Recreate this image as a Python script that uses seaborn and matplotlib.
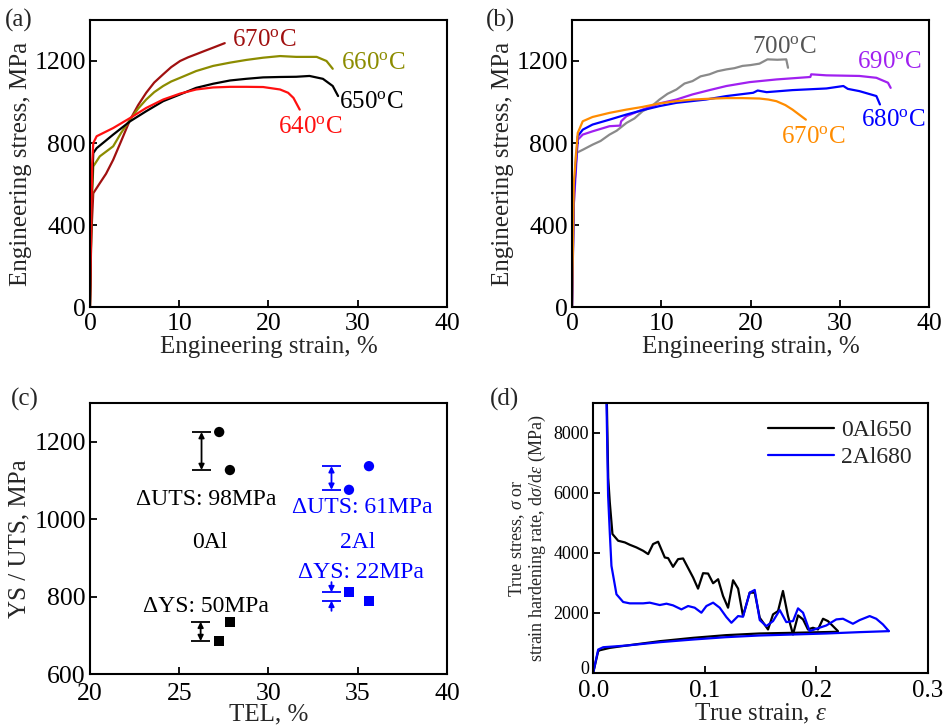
import numpy as np
import pandas as pd
import matplotlib
matplotlib.use("Agg")
import matplotlib.pyplot as plt
from matplotlib.lines import Line2D
from matplotlib.transforms import ScaledTranslation
import seaborn as sns

sns.set_theme(style="ticks")
plt.rcParams['font.family'] = ['Liberation Serif', 'DejaVu Serif']
plt.rcParams['mathtext.fontset'] = 'custom'
plt.rcParams['mathtext.rm'] = 'Liberation Serif'
plt.rcParams['mathtext.it'] = 'Liberation Serif:italic'
plt.rcParams['axes.linewidth'] = 1.5
plt.rcParams['xtick.direction'] = 'in'
plt.rcParams['ytick.direction'] = 'in'
plt.rcParams['xtick.major.width'] = 1.3
plt.rcParams['ytick.major.width'] = 1.3
plt.rcParams['xtick.major.size'] = 5
plt.rcParams['ytick.major.size'] = 5

# ---------------- Panel (a): 0Al engineering curves ----------------
a670_x = [0, 0.15, 0.37, 1.1, 1.8, 2.6, 3.5, 4.5, 5.4, 6.3, 7.2, 8.2, 9.1, 10.1, 11.0, 11.9, 12.9, 13.8, 15.1]
a670_y = [0, 350, 555, 604, 650, 718, 810, 914, 985, 1045, 1095, 1135, 1170, 1200, 1218, 1233, 1250, 1265, 1287]
a660_x = [0, 0.2, 0.37, 1.1, 2.6, 3.5, 4.5, 5.4, 6.3, 7.2, 8.2, 9.1, 10.1, 11.9, 13.8, 15.7, 17.5, 19.4, 21.3, 23.1, 25.4, 26.5, 27.2]
a660_y = [0, 500, 686, 735, 784, 850, 914, 968, 1012, 1048, 1078, 1100, 1118, 1151, 1176, 1192, 1205, 1216, 1224, 1220, 1220, 1200, 1162]
a650_x = [0, 0.2, 0.37, 0.75, 2.6, 4.5, 6.3, 8.2, 10.1, 11.9, 13.8, 15.7, 17.5, 19.4, 21.3, 23.1, 24.6, 26.1, 27.2, 27.8]
a650_y = [0, 550, 751, 775, 841, 906, 955, 1004, 1037, 1069, 1089, 1105, 1113, 1120, 1122, 1123, 1127, 1113, 1078, 1029]
a640_x = [0, 0.25, 0.37, 0.75, 2.6, 4.5, 6.3, 8.2, 10.1, 11.9, 13.8, 15.7, 17.5, 19.4, 21.3, 22.2, 22.8, 23.5]
a640_y = [0, 700, 800, 833, 873, 922, 971, 1012, 1041, 1061, 1071, 1074, 1074, 1073, 1061, 1045, 1020, 963]

# ---------------- Panel (b): 2Al engineering curves ----------------
b700_x = [0, 0.2, 0.45, 1.2, 2.3, 3.2, 4.2, 5.0, 6.1, 7.0, 7.9, 8.8, 9.8, 10.7, 11.7, 12.6, 13.5, 14.4, 15.4, 16.3, 17.3, 18.2, 19.1, 20.0, 21.0, 21.9, 23.0, 24.0, 24.2]
b700_y = [0, 500, 751, 767, 792, 810, 841, 860, 898, 920, 955, 975, 1012, 1040, 1061, 1090, 1102, 1125, 1135, 1150, 1159, 1165, 1176, 1180, 1187, 1208, 1206, 1208, 1167]
b690_x = [0, 0.2, 0.64, 1.2, 2.3, 4.2, 5.4, 5.5, 6.1, 7.9, 9.8, 11.7, 13.5, 15.4, 17.3, 19.9, 22.9, 26.7, 26.8, 28.5, 32.2, 34.1, 35.4, 35.7]
b690_y = [0, 500, 816, 841, 857, 882, 885, 906, 931, 963, 993, 1012, 1037, 1058, 1078, 1097, 1110, 1122, 1135, 1130, 1127, 1118, 1094, 1069]
b680_x = [0, 0.2, 0.64, 1.2, 2.3, 4.2, 6.1, 7.9, 9.8, 11.7, 15.0, 17.3, 20.3, 20.8, 21.8, 24.7, 28.5, 30.4, 30.9, 32.2, 34.1, 34.5]
b680_y = [0, 550, 833, 865, 890, 914, 939, 960, 980, 996, 1012, 1029, 1045, 1056, 1048, 1058, 1066, 1078, 1064, 1053, 1029, 988]
b670_x = [0, 0.2, 0.64, 1.2, 2.3, 4.2, 6.1, 7.9, 9.8, 11.7, 13.5, 15.4, 17.3, 19.1, 21.0, 22.0, 22.9, 23.9, 24.7, 26.2]
b670_y = [0, 600, 849, 906, 927, 947, 963, 976, 993, 1004, 1012, 1016, 1019, 1019, 1017, 1012, 1004, 985, 963, 914]

# ---------------- Panel (c): YS / UTS vs TEL ----------------
al0_tel = [27.24, 27.84]
al0_uts = [1225, 1127]
al0_ys = [686, 736]
al2_tel = [34.51, 35.63]
al2_uts = [1076, 1137]
al2_ys = [812, 790]

# ---------------- Panel (d): true stress & hardening ----------------
d0_strain = [0, 0.0045, 0.006, 0.0149, 0.0299, 0.0597, 0.0896, 0.119, 0.149, 0.179, 0.219]
d0_stress = [0, 725, 759, 837, 915, 1060, 1172, 1261, 1317, 1339, 1373]
d2_strain = [0, 0.0045, 0.009, 0.0299, 0.0597, 0.0896, 0.119, 0.149, 0.179, 0.209, 0.239, 0.265]
d2_stress = [0, 781, 859, 915, 1027, 1116, 1194, 1250, 1283, 1317, 1362, 1395]
d0_hx = [0.0120, 0.0135, 0.0149, 0.0173, 0.0224, 0.0284, 0.0328, 0.0388, 0.0448, 0.0493, 0.0537, 0.0582,
         0.0642, 0.0672, 0.0716, 0.0761, 0.0806, 0.0896, 0.0940, 0.0985, 0.1030, 0.1075, 0.1120, 0.1164,
         0.1209, 0.1254, 0.1299, 0.1343, 0.1403, 0.1448, 0.1493, 0.1567, 0.1612, 0.1657, 0.1701, 0.1746,
         0.1791, 0.1836, 0.1881, 0.1925, 0.1970, 0.2015, 0.2060, 0.2104, 0.2194]
d0_hy = [9600, 6500, 5692, 4631, 4408, 4352, 4274, 4185, 4073, 3962, 4296, 4375,
         3850, 3828, 3538, 3794, 3817, 3181, 2812, 3326, 3314, 2991, 3125, 2567,
         2176, 3091, 2812, 1897, 2678, 2678, 1841, 1451, 1953, 2065, 2734, 1897,
         1283, 1920, 1786, 1451, 1507, 1451, 1808, 1730, 1395]
d2_hx = [0.0117, 0.0134, 0.0149, 0.0164, 0.0209, 0.0269, 0.0328, 0.0448, 0.0507, 0.0597, 0.0657, 0.0716,
         0.0791, 0.0851, 0.0910, 0.0970, 0.1015, 0.1075, 0.1134, 0.1194, 0.1239, 0.1299, 0.1343, 0.1403,
         0.1448, 0.1493, 0.1552, 0.1612, 0.1672, 0.1731, 0.1791, 0.1836, 0.1881, 0.1940, 0.2000, 0.2090,
         0.2179, 0.2239, 0.2328, 0.2388, 0.2478, 0.2537, 0.2597, 0.2650]
d2_hy = [9600, 5915, 4687, 3571, 2623, 2366, 2321, 2321, 2344, 2265, 2310, 2254,
         2120, 2232, 2176, 2009, 2232, 2344, 2176, 1864, 1674, 1897, 1875, 2678,
         2768, 1763, 1562, 1730, 2098, 1696, 1730, 2154, 2009, 1395, 1473, 1585,
         1786, 1808, 1641, 1763, 1897, 1808, 1618, 1395]

TICK_FS = 18.5
LABEL_FS = 18
ANN_FS = 17
LW = 1.6


def curve(ax, xs, ys, color, lw=LW):
    df = pd.DataFrame({'x': xs, 'y': ys})
    sns.lineplot(data=df, x='x', y='y', ax=ax, color=color, lw=lw,
                 sort=False, estimator=None, legend=False)


def style_axes(ax, tick_fs=TICK_FS):
    ax.tick_params(axis='both', which='both', labelsize=tick_fs, top=False, right=False,
                   direction='in', colors='black')
    ax.tick_params(axis='x', pad=4)
    ax.tick_params(axis='y', pad=3)
    for s in ax.spines.values():
        s.set_visible(True)
        s.set_color('black')
        s.set_linewidth(1.5)


fig = plt.figure(figsize=(9.43, 7.26), dpi=100)
ax_a = fig.add_axes([0.0954, 0.577, 0.3786, 0.3955])
ax_b = fig.add_axes([0.6066, 0.577, 0.3786, 0.3955])
ax_c = fig.add_axes([0.0954, 0.071, 0.3786, 0.374])
ax_d = fig.add_axes([0.629, 0.073, 0.355, 0.372])

deg = r"$^{\mathrm{o}}$C"

# (a)
curve(ax_a, a670_x, a670_y, '#A01010')
curve(ax_a, a660_x, a660_y, '#8C8C00')
curve(ax_a, a650_x, a650_y, 'black')
curve(ax_a, a640_x, a640_y, '#FF1010')
ax_a.set_xlim(0, 40)
ax_a.set_ylim(0, 1400)
ax_a.set_xticks([0, 10, 20, 30, 40])
ax_a.set_yticks([0, 400, 800, 1200])
ax_a.set_xlabel('Engineering strain, %', fontsize=LABEL_FS, labelpad=1)
ax_a.set_ylabel('Engineering stress, MPa', fontsize=LABEL_FS, labelpad=2)
ax_a.text(15.9, 1302, '670' + deg, color='#A01010', fontsize=LABEL_FS, va='center')
ax_a.text(28.1, 1190, '660' + deg, color='#8C8C00', fontsize=LABEL_FS, va='center')
ax_a.text(27.9, 1000, '650' + deg, color='black', fontsize=LABEL_FS, va='center')
ax_a.text(21.1, 878, '640' + deg, color='#FF1010', fontsize=LABEL_FS, va='center')
style_axes(ax_a)

# (b)
curve(ax_b, b700_x, b700_y, '#8A8A8A')
curve(ax_b, b690_x, b690_y, '#A020F0')
curve(ax_b, b680_x, b680_y, '#0000FF')
curve(ax_b, b670_x, b670_y, '#FF8C00')
ax_b.set_xlim(0, 40)
ax_b.set_ylim(0, 1400)
ax_b.set_xticks([0, 10, 20, 30, 40])
ax_b.set_yticks([0, 400, 800, 1200])
ax_b.set_xlabel('Engineering strain, %', fontsize=LABEL_FS, labelpad=1)
ax_b.set_ylabel('Engineering stress, MPa', fontsize=LABEL_FS, labelpad=2)
ax_b.text(20.2, 1270, '700' + deg, color='#555555', fontsize=LABEL_FS, va='center')
ax_b.text(31.9, 1197, '690' + deg, color='#A020F0', fontsize=LABEL_FS, va='center')
ax_b.text(32.4, 912, '680' + deg, color='#0000FF', fontsize=LABEL_FS, va='center')
ax_b.text(23.4, 831, '670' + deg, color='#FF8C00', fontsize=LABEL_FS, va='center')
style_axes(ax_b)

# (c)
blue = '#0000FF'
sns.scatterplot(x=al0_tel, y=al0_uts, ax=ax_c, color='black', marker='o', s=55, edgecolor='none')
sns.scatterplot(x=al0_tel, y=al0_ys, ax=ax_c, color='black', marker='s', s=50, edgecolor='none')
sns.scatterplot(x=al2_tel, y=al2_uts, ax=ax_c, color=blue, marker='o', s=55, edgecolor='none')
sns.scatterplot(x=al2_tel, y=al2_ys, ax=ax_c, color=blue, marker='s', s=50, edgecolor='none')


def delta_bar(ax, x, v1, v2, color, outside=False):
    lo, hi = min(v1, v2), max(v1, v2)
    ax.hlines([lo, hi], x - 0.55, x + 0.55, color=color, lw=1.3)
    if not outside:
        ax.annotate('', xy=(x, hi), xytext=(x, lo),
                    arrowprops=dict(arrowstyle='<|-|>', color=color, lw=1.3,
                                    mutation_scale=8, shrinkA=0, shrinkB=0))
    else:
        ax.annotate('', xy=(x, hi), xytext=(x, hi + 26),
                    arrowprops=dict(arrowstyle='-|>', color=color, lw=1.3,
                                    mutation_scale=8, shrinkA=0, shrinkB=0))
        ax.annotate('', xy=(x, lo), xytext=(x, lo - 26),
                    arrowprops=dict(arrowstyle='-|>', color=color, lw=1.3,
                                    mutation_scale=8, shrinkA=0, shrinkB=0))


delta_bar(ax_c, 26.25, al0_uts[0], al0_uts[1], 'black')
delta_bar(ax_c, 26.2, al0_ys[0], al0_ys[1], 'black')
delta_bar(ax_c, 33.53, al2_uts[0], al2_uts[1], blue)
delta_bar(ax_c, 33.53, al2_ys[0], al2_ys[1], blue, outside=True)

d_uts0 = abs(al0_uts[0] - al0_uts[1])
d_ys0 = abs(al0_ys[0] - al0_ys[1])
d_uts2 = abs(al2_uts[0] - al2_uts[1])
d_ys2 = abs(al2_ys[0] - al2_ys[1])
ax_c.text(26.5, 1051, '\u0394UTS: %dMPa' % d_uts0, fontsize=ANN_FS, ha='center', va='center', color='black')
ax_c.text(26.7, 940, '0Al', fontsize=ANN_FS, ha='center', va='center', color='black')
ax_c.text(26.5, 776, '\u0394YS: %dMPa' % d_ys0, fontsize=ANN_FS, ha='center', va='center', color='black')
ax_c.text(35.25, 1030, '\u0394UTS: %dMPa' % d_uts2, fontsize=ANN_FS, ha='center', va='center', color=blue)
ax_c.text(35.0, 940, '2Al', fontsize=ANN_FS, ha='center', va='center', color=blue)
ax_c.text(35.2, 862, '\u0394YS: %dMPa' % d_ys2, fontsize=ANN_FS, ha='center', va='center', color=blue)
ax_c.set_xlim(20, 40)
ax_c.set_ylim(600, 1300)
ax_c.set_xticks([20, 25, 30, 35, 40])
ax_c.set_yticks([600, 800, 1000, 1200])
ax_c.set_xlabel('TEL, %', fontsize=LABEL_FS, labelpad=-1)
ax_c.set_ylabel('YS / UTS, MPa', fontsize=LABEL_FS, labelpad=3)
style_axes(ax_c)
ax_c.tick_params(axis='x', pad=6)

# (d)
curve(ax_d, d0_strain, d0_stress, 'black')
curve(ax_d, d0_hx, d0_hy, 'black')
curve(ax_d, d2_strain, d2_stress, '#0000FF')
curve(ax_d, d2_hx, d2_hy, '#0000FF')
handles = [Line2D([], [], color='black', lw=LW), Line2D([], [], color='#0000FF', lw=LW)]
ax_d.legend(handles, ['0Al650', '2Al680'], loc='upper right', frameon=False, fontsize=17,
            handlelength=2.8, borderaxespad=0.3, labelspacing=0.25, handletextpad=0.3)
ax_d.set_xlim(0, 0.3)
ax_d.set_ylim(0, 9000)
ax_d.set_xticks([0.0, 0.1, 0.2, 0.3])
ax_d.set_xticklabels(['0.0', '0.1', '0.2', '0.3'])
ax_d.set_yticks([0, 2000, 4000, 6000, 8000])
ax_d.set_xlabel(r'True strain, $\varepsilon$', fontsize=LABEL_FS, labelpad=0)
ax_d.set_ylabel('True stress, $\\sigma$ or\nstrain hardening rate, d$\\sigma$/d$\\varepsilon$ (MPa)',
                fontsize=13, labelpad=4, linespacing=1.0)
style_axes(ax_d)
ax_d.tick_params(axis='y', labelsize=13)
ax_d.tick_params(axis='x', labelsize=18, pad=5)
# nudge the lowest y tick label up slightly so it does not collide with "0.0"
ylab0 = ax_d.get_yticklabels()[0]
ylab0.set_transform(ylab0.get_transform() + ScaledTranslation(0, 4 / 72, fig.dpi_scale_trans))

for lab, (xp, yp) in zip(['(a)', '(b)', '(c)', '(d)'],
                         [(0.005, 0.972), (0.515, 0.972), (0.012, 0.45), (0.519, 0.45)]):
    fig.text(xp, yp, lab, fontsize=LABEL_FS, ha='left', va='center')

fig.savefig('out.png', dpi=100)
